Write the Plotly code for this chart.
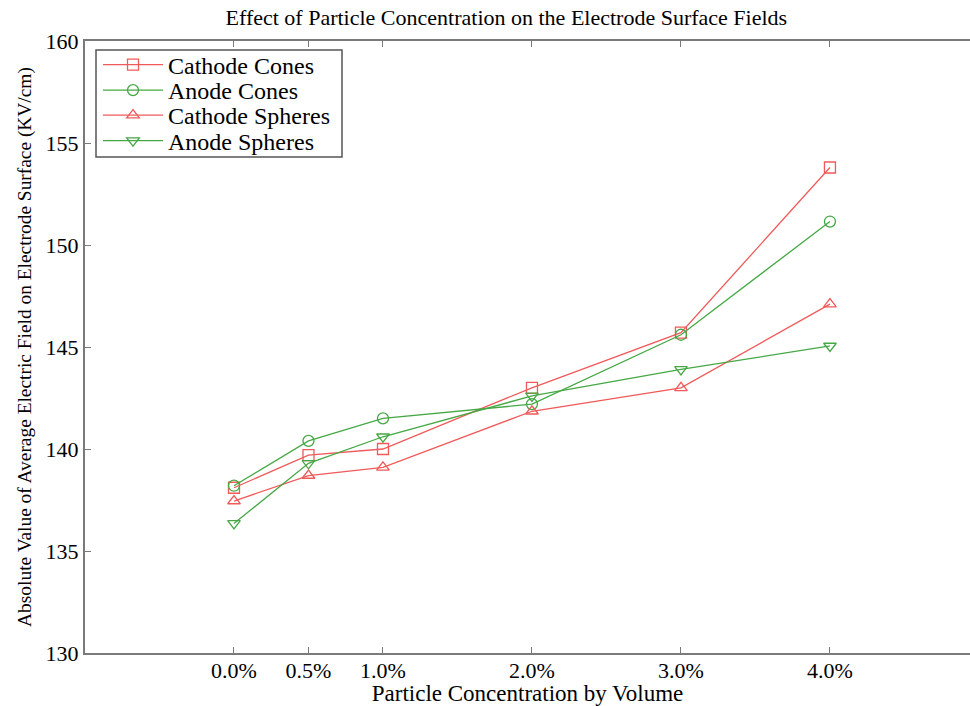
import plotly.graph_objects as go

# Particle concentration (% by volume) and tick labels
concentration = [0.0, 0.5, 1.0, 2.0, 3.0, 4.0]
tick_labels = ["0.0%", "0.5%", "1.0%", "2.0%", "3.0%", "4.0%"]
y_ticks = [130, 135, 140, 145, 150, 155, 160]

# Average electric field magnitude on electrode surface (KV/cm)
cathode_cones = [138.1, 139.7, 140.0, 143.0, 145.7, 153.8]
anode_cones = [138.2, 140.4, 141.5, 142.2, 145.6, 151.15]
cathode_spheres = [137.45, 138.7, 139.1, 141.85, 143.0, 147.1]
anode_spheres = [136.35, 139.3, 140.6, 142.6, 143.9, 145.05]

RED = "#f05a5a"
GREEN = "#45a845"
FONT = "Liberation Serif"

series = [
    ("Cathode Cones", cathode_cones, RED, "square-open"),
    ("Anode Cones", anode_cones, GREEN, "circle-open"),
    ("Cathode Spheres", cathode_spheres, RED, "triangle-up-open"),
    ("Anode Spheres", anode_spheres, GREEN, "triangle-down-open"),
]

# plot area in pixels (used to place legend rows in paper coordinates)
W, H = 970, 706
ML, MR, MT, MB = 85, 0, 41, 53
PW, PH = W - ML - MR, H - MT - MB


def px_x(x):
    return (x - ML) / PW


def px_y(y):
    return 1 - (y - MT) / PH


row_centres = [65, 90.5, 115.5, 141]
legend_names = ["legend", "legend2", "legend3", "legend4"]

fig = go.Figure()
for (name, vals, color, symbol), lg in zip(series, legend_names):
    fig.add_trace(go.Scatter(
        x=concentration, y=vals, name=name, mode="lines+markers",
        line=dict(color=color, width=1.3),
        marker=dict(symbol=symbol, size=11, color=color,
                    line=dict(color=color, width=1.3)),
        legend=lg,
    ))

legend_layout = {}
for lg, yc in zip(legend_names, row_centres):
    legend_layout[lg] = dict(
        x=px_x(98), y=px_y(yc), xanchor="left", yanchor="middle",
        bgcolor="rgba(0,0,0,0)", borderwidth=0,
        font=dict(family=FONT, size=24), itemwidth=60,
    )

axis_color = "#7a7a7a"
fig.update_layout(
    width=W, height=H,
    margin=dict(l=ML, r=MR, t=MT, b=MB),
    paper_bgcolor="white", plot_bgcolor="white",
    font=dict(family=FONT, size=20, color="black"),
    title=dict(text="Effect of Particle Concentration on the Electrode Surface Fields",
               x=0.522, xanchor="center", y=0.976, yanchor="middle",
               font=dict(family=FONT, size=22)),
    showlegend=True,
    shapes=[dict(type="rect", xref="paper", yref="paper",
                 x0=px_x(96), x1=px_x(342), y0=px_y(157), y1=px_y(50),
                 line=dict(color="#555555", width=1.5), fillcolor="white",
                 layer="above")],
    **legend_layout,
)
fig.update_xaxes(
    range=[-1, 4.94], tickvals=concentration, ticktext=tick_labels,
    showline=True, linecolor=axis_color, linewidth=2, mirror="ticks",
    ticks="inside", ticklen=6, tickcolor=axis_color, showgrid=False,
    zeroline=False, tickfont=dict(size=22), ticklabelstandoff=-3,
    title=dict(text="Particle Concentration by Volume", standoff=2,
               font=dict(size=23)),
)
fig.update_yaxes(
    range=[130, 160], tickvals=y_ticks,
    showline=True, linecolor=axis_color, linewidth=2, mirror=False,
    ticks="inside", ticklen=6, tickcolor=axis_color, showgrid=False,
    zeroline=False, tickfont=dict(size=22),
    title=dict(text="Absolute Value of Average Electric Field on Electrode Surface (KV/cm)",
               standoff=9, font=dict(size=19.4)),
)

fig.write_html("out.html")
